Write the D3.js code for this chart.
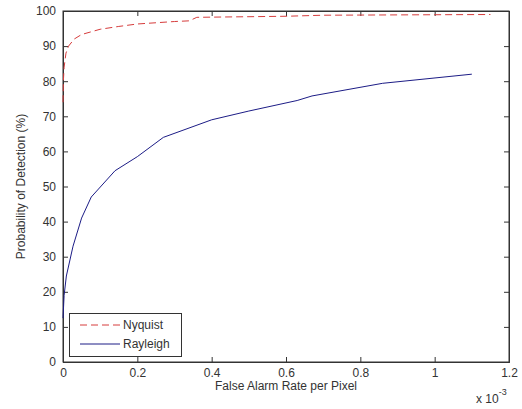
<!DOCTYPE html>
<html><head><meta charset="utf-8">
<script src="https://cdn.jsdelivr.net/npm/d3@7"></script>
<style>body{margin:0;background:#fff;} text{font-family:"Liberation Sans",Arial,sans-serif;}</style>
</head><body><svg id="c" width="522" height="409"></svg>
<script>
const nyquistX = [0, 0.001, 0.003, 0.008, 0.015, 0.03, 0.05, 0.1, 0.15, 0.2, 0.3, 0.34, 0.36, 0.6, 0.7, 1.15];
const nyquistY = [74, 80, 84, 88, 90, 92, 93.3, 94.8, 95.6, 96.3, 97, 97.2, 98.2, 98.5, 98.8, 99];
const rayleighX = [0, 0.003, 0.009, 0.027, 0.05, 0.076, 0.14, 0.2, 0.27, 0.4, 0.5, 0.63, 0.67, 0.86, 1.1];
const rayleighY = [12.5, 19, 24.5, 33, 41, 47, 54.5, 58.5, 64, 69, 71.5, 74.5, 75.8, 79.4, 82];
const xTicks = [0, 0.2, 0.4, 0.6, 0.8, 1, 1.2];
const yTicks = [0, 10, 20, 30, 40, 50, 60, 70, 80, 90, 100];
const seriesNames = ["Nyquist", "Rayleigh"];

const svg = d3.select("#c");
const L = 63, R = 509, T = 11, B = 362;
const x = d3.scaleLinear().domain([0, 1.2]).range([L, R]);
const y = d3.scaleLinear().domain([0, 100]).range([B, T]);
const axCol = "#333";

svg.append("rect").attr("x", L).attr("y", T).attr("width", R - L).attr("height", B - T)
  .attr("fill", "#fff").attr("stroke", axCol).attr("stroke-width", 1);

const fmt = d => d3.format("")(+d.toFixed(1));
const gx = svg.append("g").attr("transform", `translate(0,${B})`)
  .call(d3.axisBottom(x).tickValues(xTicks).tickSize(-5).tickPadding(6).tickFormat(fmt));
const gxt = svg.append("g").attr("transform", `translate(0,${T})`)
  .call(d3.axisTop(x).tickValues(xTicks).tickSize(-5).tickFormat(""));
const gy = svg.append("g").attr("transform", `translate(${L},0)`)
  .call(d3.axisLeft(y).tickValues(yTicks).tickSize(-5).tickPadding(7));
const gyr = svg.append("g").attr("transform", `translate(${R},0)`)
  .call(d3.axisRight(y).tickValues(yTicks).tickSize(-5).tickFormat(""));
[gx, gxt, gy, gyr].forEach(g => {
  g.select(".domain").attr("stroke", axCol);
  g.selectAll(".tick line").attr("stroke", axCol);
  g.selectAll("text").attr("font-size", 12).attr("fill", "#333")
    .attr("font-family", "'Liberation Sans', Arial, sans-serif");
});

const line = d3.line().x(d => x(d[0])).y(d => y(d[1]));
const nyq = nyquistX.map((v, i) => [v, nyquistY[i]]);
const ray = rayleighX.map((v, i) => [v, rayleighY[i]]);
svg.append("path").datum(ray).attr("d", line).attr("fill", "none")
  .attr("stroke", "#1c1c86").attr("stroke-width", 1);
svg.append("path").datum(nyq).attr("d", line).attr("fill", "none")
  .attr("stroke", "#d63c3c").attr("stroke-width", 1).attr("stroke-dasharray", "7,4");

// axis labels
svg.append("text").attr("x", (L + R) / 2).attr("y", 390).attr("text-anchor", "middle")
  .attr("font-size", 12).attr("fill", "#333").text("False Alarm Rate per Pixel");
svg.append("text").attr("transform", `translate(25,${(T + B) / 2}) rotate(-90)`)
  .attr("text-anchor", "middle").attr("font-size", 12).attr("fill", "#333")
  .text("Probability of Detection (%)");
const ex = svg.append("text").attr("x", 476).attr("y", 403).attr("font-size", 12).attr("fill", "#333");
ex.append("tspan").text("x 10");
ex.append("tspan").attr("dy", -8).attr("font-size", 9).text("-3");

// legend
const lg = svg.append("g");
lg.append("rect").attr("x", 69.5).attr("y", 313.5).attr("width", 112).attr("height", 43)
  .attr("fill", "#fff").attr("stroke", axCol);
const leg = [{name: seriesNames[0], c: "#d63c3c", dash: "7,4", y: 325},
             {name: seriesNames[1], c: "#1c1c86", dash: null, y: 344}];
leg.forEach(d => {
  lg.append("line").attr("x1", 80).attr("x2", 120).attr("y1", d.y).attr("y2", d.y)
    .attr("stroke", d.c).attr("stroke-dasharray", d.dash);
  lg.append("text").attr("x", 123).attr("y", d.y + 4).attr("font-size", 12).attr("fill", "#333").text(d.name);
});
</script></body></html>
